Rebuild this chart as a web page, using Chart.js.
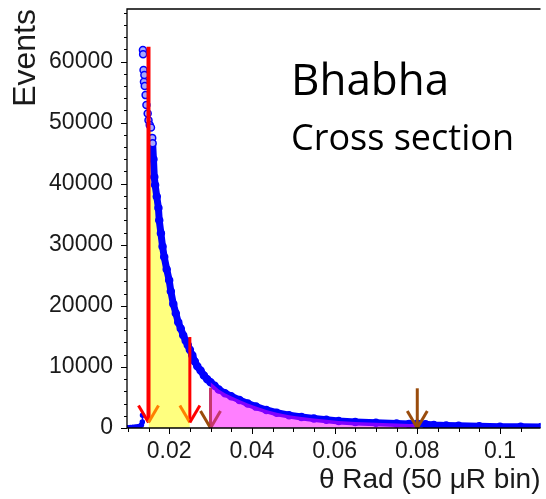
<!DOCTYPE html>
<html lang="en">
<head>
<meta charset="UTF-8">
<title>Bhabha cross section</title>
<style>
  html, body { margin: 0; padding: 0; background: #fff; }
  #wrap { width: 546px; height: 499px; }
</style>
</head>
<body>
<div id="wrap"><canvas id="chart" width="546" height="499"></canvas></div>
<script src="https://cdn.jsdelivr.net/npm/chart.js"></script>
<script>
// theta bins (rad) and event counts
const thetaBins = [
  0.0100, 0.0106, 0.0112, 0.0118, 0.0124, 0.0129, 0.0133, 0.0135, 0.01355, 0.0136,
  0.01365, 0.0137, 0.0138, 0.0139, 0.0140, 0.0141, 0.0143, 0.0145, 0.0148,
  0.0150, 0.0153, 0.0156, 0.0159, 0.0160, 0.0162, 0.0164, 0.0166, 0.0170, 0.0174,
  0.0176, 0.0180, 0.0184, 0.0188, 0.0194, 0.0200, 0.0204, 0.0210, 0.0216, 0.0222,
  0.0228, 0.0234, 0.0240, 0.0245, 0.0250, 0.0256, 0.0262, 0.0268, 0.0276, 0.0284,
  0.0292, 0.0300, 0.0310, 0.0320, 0.0335, 0.0350, 0.0370, 0.0390, 0.0410, 0.0435,
  0.0460, 0.0490, 0.0520, 0.0550, 0.0580, 0.0610, 0.0650, 0.0700, 0.0750, 0.0780,
  0.0800, 0.0820, 0.0840, 0.0870, 0.0900, 0.0950, 0.1000, 0.1050, 0.1100
];
const events = [
  50, 100, 120, 150, 200, 300, 500, 1000, 2100, null,
  61900, 61200, 58600, 56700, 57800, 56000, 54500, 52900, 51500,
  50400, 49600, 49200, 47500, 46600, 44000, 41100, 39800, 37900, 36000,
  34000, 31900, 29700, 28000, 26000, 24200, 22400, 20300, 18800, 17300,
  16300, 15200, 14300, 13600, 12800, 11900, 10900, 10100, 9400, 8600,
  8000, 7500, 6900, 6300, 5700, 5200, 4600, 4000, 3500, 2950,
  2500, 2100, 1800, 1550, 1350, 1150, 1000, 850, 720, 660,
  680, 600, 500, 420, 350, 270, 220, 190, 160
];

// axis ranges, labelled ticks and minor spacing
const xRange = [0.0098, 0.1098];
const yRange = [0, 68600];
const xTickValues = [0.02, 0.04, 0.06, 0.08, 0.1];
const yTickValues = [0, 10000, 20000, 30000, 40000, 50000, 60000];
const xMinor = 0.005, yMinor = 2000;

// shaded cut regions (theta)
const yellowCut = [0.015, 0.025];
const pinkCut = [0.03, 0.08];

// arrow markers
const arrowTheta = [0.015, 0.025, 0.03, 0.08];
const arrowTop = [62400, 14900, 6600, 6500];
const arrowTip = [900, 900, 0, 0];
const arrowShaft = ['#ff0000', '#ff0000', '#c4386c', '#9a4c0c'];
const arrowLeft = ['#ff0000', '#ff8000', '#9a4c0c', '#9a4c0c'];
const arrowRight = ['#ff8000', '#ff0000', '#c4386c', '#9a4c0c'];
const arrowWidth = [4, 3, 3, 3];

const points = thetaBins.map((t, i) => ({ x: t, y: events[i] }));
const cutPoints = (lo, hi) => points.filter(p => p.y !== null && p.x >= lo - 1e-9 && p.x <= hi + 1e-9);

const axisFont = { family: 'Liberation Sans', size: 23 };
const textColor = '#1a1a1a';

// frame + major/minor tick marks
const axisTicks = {
  id: 'axisTicks',
  afterDraw(chart) {
    const { ctx, chartArea: a, scales: { x, y } } = chart;
    ctx.save();
    ctx.strokeStyle = '#000';
    ctx.lineWidth = 1.3;
    ctx.beginPath();
    ctx.moveTo(a.right, a.top); ctx.lineTo(a.left, a.top);
    ctx.lineTo(a.left, a.bottom); ctx.lineTo(a.right, a.bottom);
    ctx.stroke();
    ctx.lineWidth = 1;
    ctx.beginPath();
    for (let k = Math.ceil(xRange[0] / xMinor); k * xMinor <= xRange[1]; k++) {
      const px = Math.round(x.getPixelForValue(k * xMinor)) + 0.5;
      const len = k % 4 === 0 ? 6 : 4;
      ctx.moveTo(px, a.bottom); ctx.lineTo(px, a.bottom + len);
    }
    for (let k = 0; k * yMinor <= yRange[1]; k++) {
      const py = Math.round(y.getPixelForValue(k * yMinor)) + 0.5;
      const len = k % 5 === 0 ? 6 : 3;
      ctx.moveTo(a.left, py); ctx.lineTo(a.left - len, py);
    }
    ctx.stroke();
    ctx.restore();
  }
};

// cut arrows and the labels
const overlay = {
  id: 'overlay',
  afterDatasetsDraw(chart) {
    const { ctx, scales: { x, y } } = chart;
    ctx.save();
    ctx.lineCap = 'butt';
    arrowTheta.forEach((t, i) => {
      const px = x.getPixelForValue(t);
      const top = y.getPixelForValue(arrowTop[i]);
      const tip = y.getPixelForValue(arrowTip[i]);
      ctx.lineWidth = arrowWidth[i];
      ctx.strokeStyle = arrowShaft[i];
      ctx.beginPath(); ctx.moveTo(px, top); ctx.lineTo(px, tip - 1); ctx.stroke();
      ctx.lineWidth = 3;
      ctx.strokeStyle = arrowLeft[i];
      ctx.beginPath(); ctx.moveTo(px - 10, tip - 17); ctx.lineTo(px, tip); ctx.stroke();
      ctx.strokeStyle = arrowRight[i];
      ctx.beginPath(); ctx.moveTo(px, tip); ctx.lineTo(px + 10, tip - 17); ctx.stroke();
    });
    ctx.fillStyle = '#000';
    ctx.textBaseline = 'alphabetic';
    ctx.font = '44px "Open Sans"';
    ctx.fillText('Bhabha', 291, 95);
    ctx.font = '36px "Open Sans"';
    ctx.fillText('Cross section', 291, 150);
    ctx.restore();
  }
};

new Chart(document.getElementById('chart'), {
  type: 'scatter',
  data: {
    datasets: [
      {
        label: 'yellow cut',
        type: 'line',
        data: cutPoints(yellowCut[0], yellowCut[1]),
        fill: 'origin',
        backgroundColor: 'rgba(255,255,0,0.5)',
        borderWidth: 0,
        borderColor: 'transparent',
        pointRadius: 0,
        tension: 0,
        order: 3,
        clip: 0
      },
      {
        label: 'pink cut',
        type: 'line',
        data: cutPoints(pinkCut[0], pinkCut[1]),
        fill: 'origin',
        backgroundColor: 'rgba(255,0,255,0.5)',
        borderWidth: 0,
        borderColor: 'transparent',
        pointRadius: 0,
        tension: 0,
        order: 1,
        clip: 0
      },
      {
        label: 'Events',
        type: 'line',
        data: points,
        showLine: true,
        spanGaps: false,
        borderColor: '#0000ff',
        borderWidth: 7,
        tension: 0,
        segment: {
          borderColor: c => c.p0.parsed.y > 47000 ? 'transparent' : '#0000ff',
          borderWidth: c => c.p1.parsed.x < 0.0136 ? 1.5 : 7
        },
        pointRadius: c => (c.raw && c.raw.x < 0.0136) ? 2 : 3.5,
        pointBorderWidth: 1.5,
        pointBorderColor: '#0000ff',
        pointBackgroundColor: c => (c.raw && c.raw.y > 44000) ? '#a8a8ff' : '#0000ff',
        fill: false,
        order: 2,
        clip: 0
      }
    ]
  },
  options: {
    responsive: false,
    animation: false,
    events: [],
    layout: { padding: { top: 9, right: 0, bottom: 0, left: 0 } },
    plugins: { legend: { display: false }, tooltip: { enabled: false } },
    scales: {
      x: {
        type: 'linear',
        min: xRange[0],
        max: xRange[1],
        grid: { display: false, drawTicks: false },
        border: { display: false },
        afterBuildTicks: s => { s.ticks = xTickValues.map(v => ({ value: v })); },
        ticks: {
          autoSkip: false,
          maxRotation: 0,
          padding: 10,
          font: axisFont,
          color: textColor,
          callback: v => String(+v.toFixed(2))
        },
        title: {
          display: true,
          text: 'θ Rad (50 μR bin)',
          align: 'end',
          color: textColor,
          font: { family: 'Liberation Sans', size: 28 },
          padding: { top: 0, bottom: 2 }
        },
        afterFit: s => { s.height = 71; s.paddingLeft = 0; s.paddingRight = 0; }
      },
      y: {
        type: 'linear',
        min: yRange[0],
        max: yRange[1],
        grid: { display: false, drawTicks: false },
        border: { display: false },
        afterBuildTicks: s => { s.ticks = yTickValues.map(v => ({ value: v })); },
        ticks: {
          autoSkip: false,
          padding: 14,
          font: axisFont,
          color: textColor,
          callback: v => String(v)
        },
        title: {
          display: true,
          text: 'Events',
          align: 'end',
          color: textColor,
          font: { family: 'Liberation Sans', size: 32 },
          padding: { top: 7, bottom: 0 }
        },
        afterFit: s => { s.width = 127; s.paddingTop = 0; s.paddingBottom = 0; }
      }
    }
  },
  plugins: [overlay, axisTicks]
});
</script>
</body>
</html>
